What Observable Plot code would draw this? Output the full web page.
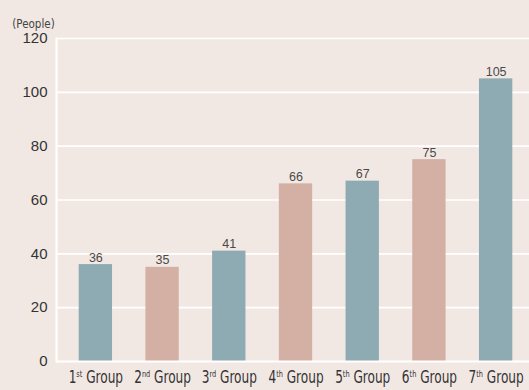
<!DOCTYPE html>
<html>
<head>
<meta charset="utf-8">
<script src="https://cdn.jsdelivr.net/npm/d3@7"></script>
<script src="https://cdn.jsdelivr.net/npm/@observablehq/plot@0.6"></script>
<style>
  html, body { margin: 0; padding: 0; background: #f2e8e3; }
  #chart svg { display: block; }
</style>
</head>
<body>
<div id="chart"></div>
<script>
const groups = ["1st Group", "2nd Group", "3rd Group", "4th Group", "5th Group", "6th Group", "7th Group"];
const ordinals = ["1", "2", "3", "4", "5", "6", "7"];
const suffixes = ["st", "nd", "rd", "th", "th", "th", "th"];
const people = [36, 35, 41, 66, 67, 75, 105];
const yTicks = [0, 20, 40, 60, 80, 100, 120];
const barColors = ["#8eaab3", "#d4b0a4"];

const data = groups.map((g, i) => ({group: g, value: people[i], kind: i % 2}));

const font = "'DejaVu Sans Condensed', 'Liberation Sans', sans-serif";

const chart = Plot.plot({
  width: 529,
  height: 390,
  marginLeft: 56,
  marginRight: 0,
  marginTop: 38,
  marginBottom: 29,
  style: {background: "#f2e8e3", fontFamily: "'Liberation Sans', Arial, sans-serif", color: "#333"},
  x: {domain: groups, insetLeft: 6, paddingInner: 0.5, paddingOuter: 0.25, label: null, round: false},
  y: {domain: [0, 120], ticks: yTicks, label: null},
  color: {domain: [0, 1], range: barColors},
  marks: [
    Plot.ruleY(yTicks.filter(t => t > 0), {stroke: "white", strokeWidth: 1.6}),
    Plot.barY(data, {x: "group", y: "value", fill: "kind"}),
    Plot.ruleY([0], {stroke: "white", strokeWidth: 2}),
    Plot.frame({anchor: "left", stroke: "white", strokeWidth: 2, strokeOpacity: 1}),
    Plot.text(data, {x: "group", y: "value", text: d => String(d.value), lineAnchor: "bottom", dy: -3, fontSize: 12.5, fill: "#4a4a4a"}),
    Plot.text(["(People)"], {frameAnchor: "top-left", dx: -23, dy: -19, text: d => d, textAnchor: "middle", fontSize: 11.5, fill: "#444", fontFamily: font}),
    Plot.axisY({ticks: yTicks, tickSize: 0, tickPadding: 9, fontSize: 15, fill: "#333"}),
    Plot.axisX({tickSize: 0, tickPadding: 9, fontSize: 17.5, fill: "#333", fontFamily: font})
  ]
});

document.getElementById("chart").appendChild(chart);

// Render ordinal suffixes as superscripts and narrow the x tick labels
d3.select(chart).selectAll("g[aria-label='x-axis tick label'] text").each(function() {
  const idx = groups.indexOf(this.textContent);
  if (idx < 0) return;
  const t = d3.select(this);
  const tr = t.attr("transform") || "";
  t.attr("transform", tr + " scale(0.77,1)");
  t.text(null);
  t.append("tspan").text(ordinals[idx]);
  t.append("tspan").attr("font-size", 9.5).attr("dy", -6).text(suffixes[idx]);
  t.append("tspan").attr("dy", 6).text(" Group");
});
</script>
</body>
</html>
